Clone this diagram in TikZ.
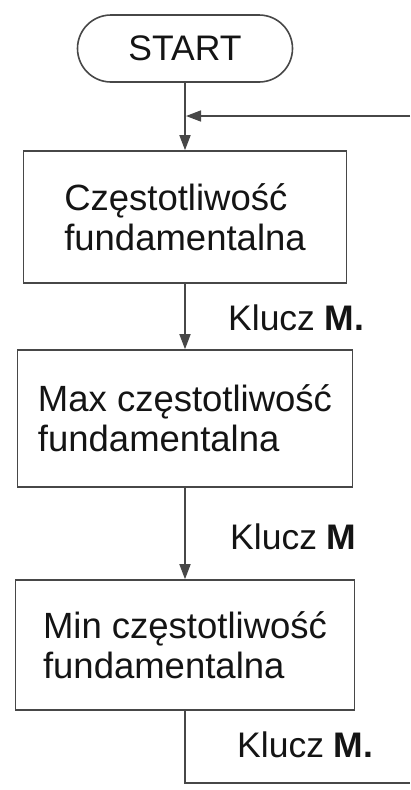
\documentclass[tikz,border=0pt]{standalone}
\usepackage{fontspec}
\setmainfont{Liberation Sans}
\usetikzlibrary{arrows.meta,shapes.misc}
\begin{document}
\begin{tikzpicture}[x=1pt,y=-1pt,
  ln/.style={draw=black!72, line width=1.6pt},
  box/.style={ln, rectangle, inner sep=0pt, align=left, text=black!92,
    font=\fontsize{36.5}{40}\selectfont},
  arr/.style={ln, -{Triangle[length=15pt,width=11pt]}},
  lbl/.style={inner sep=0pt, anchor=base west, text=black!92,
    font=\fontsize{35.5}{40}\selectfont},
]
\useasboundingbox (0,0) rectangle (410,790);
\node[ln, rounded rectangle, minimum width=215pt, minimum height=67pt, inner sep=0pt,
  font=\fontsize{35.5}{40}\selectfont, text=black!92] (start) at (185,48.5) {START};
\node[box, minimum width=323pt, minimum height=132pt] (b1) at (185,217) {Częstotliwość\\fundamentalna};
\node[box, minimum width=335pt, minimum height=137pt] (b2) at (185,418.5) {Max częstotliwość\\fundamentalna};
\node[box, minimum width=339pt, minimum height=130pt] (b3) at (185,645) {Min częstotliwość\\fundamentalna};
\coordinate (fb) at (410,116);
\coordinate (j) at (186,116);
\coordinate (corner) at (185,783);
\coordinate (out) at (410,783);
\draw[arr] (start) -- (b1);
\draw[arr] (fb) -- (j);
\draw[arr] (b1) -- (b2);
\draw[arr] (b2) -- (b3);
\draw[ln] (b3.south) -- (corner) -- (out);
\node[lbl] (k1) at (228,330) {Klucz \textbf{M.}};
\node[lbl] (k2) at (230,549) {Klucz \textbf{M}};
\node[lbl] (k3) at (237,757) {Klucz \textbf{M.}};
\end{tikzpicture}
\end{document}
